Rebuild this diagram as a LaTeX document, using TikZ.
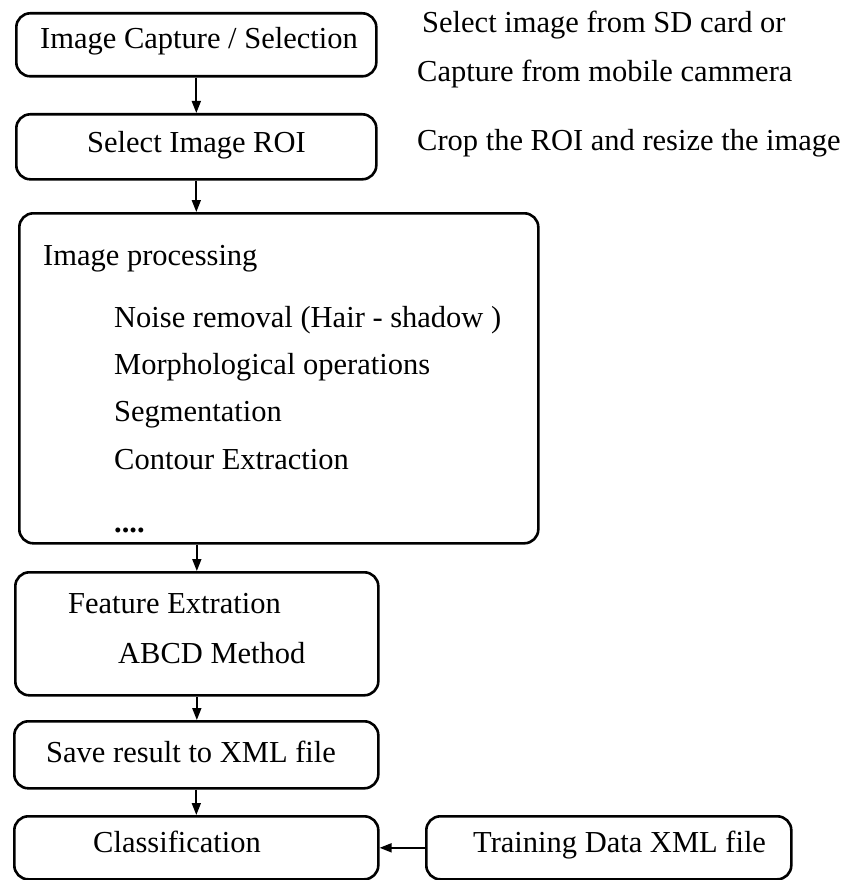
\documentclass[tikz,border=0pt]{standalone}
\usepackage{fontspec}
\setmainfont{Liberation Serif}
\usetikzlibrary{arrows.meta}
\begin{document}
\begin{tikzpicture}[x=1pt,y=-1pt,
  box/.style={draw=black,line width=2.6pt,rounded corners=14pt,inner sep=0pt},
  lbl/.style={anchor=base west,inner sep=0pt,font=\fontsize{30.5}{36}\selectfont},
  arr/.style={line width=1.7pt,-{Triangle[length=12pt,width=9pt]}}]
\useasboundingbox (0,0) rectangle (844,880);
% boxes
\node[box,anchor=north west,minimum width=360pt,minimum height=63pt] (b1) at (15,12) {};
\node[box,anchor=north west,minimum width=360pt,minimum height=65pt] (b2) at (15,113) {};
\node[box,anchor=north west,minimum width=519pt,minimum height=330pt] (b3) at (18,212) {};
\node[box,anchor=north west,minimum width=363pt,minimum height=123pt] (b4) at (14,571) {};
\node[box,anchor=north west,minimum width=364pt,minimum height=67pt] (b5) at (13,720) {};
\node[box,anchor=north west,minimum width=364pt,minimum height=63pt] (b6) at (13,815) {};
\node[box,anchor=north west,minimum width=365pt,minimum height=63pt] (b7) at (425,815) {};
% texts
\node[lbl] (t1) at (40,49) {Image Capture / Selection};
\node[lbl] (t2) at (87,152) {Select Image ROI};
\node[lbl] (t3) at (43,265) {Image processing};
\node[lbl] (t4) at (114,327) {Noise removal (Hair - shadow )};
\node[lbl] (t5) at (114,374) {Morphological operations};
\node[lbl] (t6) at (114,421) {Segmentation};
\node[lbl] (t7) at (114,469) {Contour Extraction};
\node[lbl] (t8) at (114,532) {\textbf{....}};
\node[lbl] (t9) at (68,613) {Feature Extration};
\node[lbl] (t10) at (118,663) {ABCD Method};
\node[lbl] (t11) at (46,762) {Save result to XML file};
\node[lbl] (t12) at (93,852) {Classification};
\node[lbl] (t13) at (473,852) {Training Data XML file};
\node[lbl] (n1) at (422,33) {Select image from SD card or};
\node[lbl] (n2) at (417,82) {Capture from mobile cammera};
\node[lbl] (n3) at (417,150) {Crop the ROI and resize the image};
% connectors
\draw[arr] (b1.south) -- (b2.north);
\draw[arr] (b2.south) -- (b2.south |- b3.north);
\draw[arr] (b4.north |- b3.south) -- (b4.north);
\draw[arr] (b4.south) -- (b4.south |- b5.north);
\draw[arr] (b5.south) -- (b5.south |- b6.north);
\draw[arr] (b7.west) -- (b6.east);
\end{tikzpicture}
\end{document}
